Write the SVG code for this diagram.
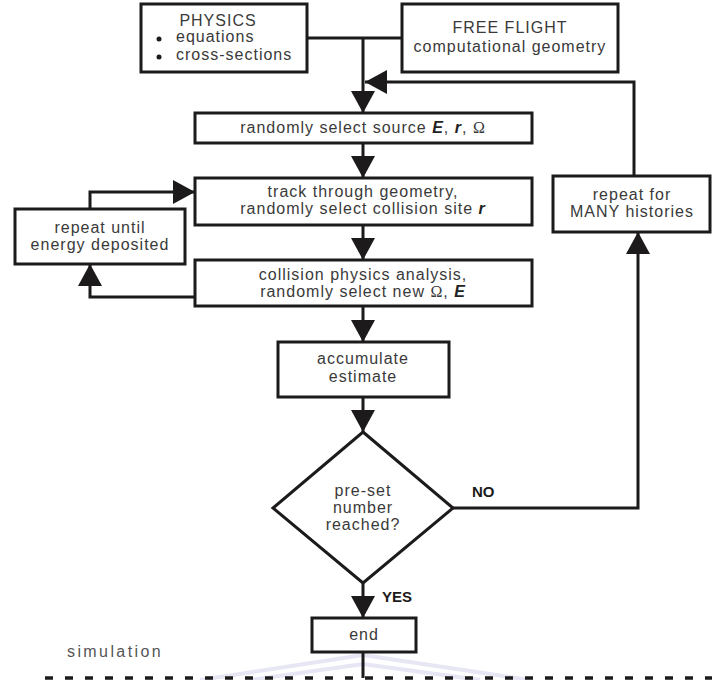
<svg xmlns="http://www.w3.org/2000/svg" width="712" height="680" viewBox="0 0 712 680">
<defs>
<style>
.box{fill:#fff;stroke:#1c1a1a;stroke-width:3}
.ln{fill:none;stroke:#1c1a1a;stroke-width:3}
.t{font-family:"Liberation Sans",Arial,sans-serif;font-size:16px;letter-spacing:1px;fill:#3a3a3a;text-anchor:middle}
.tl{font-family:"Liberation Sans",Arial,sans-serif;font-size:16px;letter-spacing:1px;fill:#3a3a3a}
.lab{font-family:"Liberation Sans",Arial,sans-serif;font-size:15px;font-weight:bold;fill:#1c1a1a}
.bi{font-weight:bold;font-style:italic;fill:#222}
.om{font-family:"Liberation Serif","Times New Roman",serif}
</style>
<marker id="ah" markerUnits="userSpaceOnUse" markerWidth="22" markerHeight="24" refX="22" refY="12" orient="auto" viewBox="0 0 22 24">
<path d="M0,0 L22,12 L0,24 Z" fill="#1c1a1a"/>
</marker>
</defs>
<rect width="712" height="680" fill="#fff"/>

<g id="watermark" fill="none" stroke="#dcdcf0" stroke-width="4" opacity="0.7">
<polyline points="200,680 363,655 530,680"/>
<polyline points="250,680 363,664 480,680"/>
</g>

<g id="connectors">
<line class="ln" x1="307" y1="38" x2="402" y2="38"/>
<line class="ln" x1="363" y1="38" x2="363" y2="113" marker-end="url(#ah)"/>
<polyline class="ln" points="634,176 634,82 365,82" marker-end="url(#ah)"/>
<line class="ln" x1="363" y1="143" x2="363" y2="178" marker-end="url(#ah)"/>
<line class="ln" x1="363" y1="225" x2="363" y2="260" marker-end="url(#ah)"/>
<polyline class="ln" points="195,297 90,297 90,264" marker-end="url(#ah)"/>
<polyline class="ln" points="90,209 90,192 195,192" marker-end="url(#ah)"/>
<line class="ln" x1="363" y1="306" x2="363" y2="342" marker-end="url(#ah)"/>
<line class="ln" x1="363" y1="397" x2="363" y2="432" marker-end="url(#ah)"/>
<polyline class="ln" points="453,508 638,508 638,232" marker-end="url(#ah)"/>
<line class="ln" x1="363" y1="583" x2="363" y2="618" marker-end="url(#ah)"/>
<line class="ln" x1="363" y1="652" x2="363" y2="678"/>
<line x1="45" y1="678" x2="712" y2="678" stroke="#1c1a1a" stroke-width="3.5" stroke-dasharray="8 12"/>
<text class="lab" x="472" y="497">NO</text>
<text class="lab" x="382" y="602">YES</text>
</g>

<g id="physics">
<rect class="box" x="141" y="4" width="166" height="68"/>
<text class="t" x="218" y="26">PHYSICS</text>
<circle cx="159" cy="39" r="2.5" fill="#1c1a1a"/>
<circle cx="159" cy="57" r="2.5" fill="#1c1a1a"/>
<text class="tl" x="176" y="42">equations</text>
<text class="tl" x="176" y="60">cross-sections</text>
</g>

<g id="freeflight">
<rect class="box" x="402" y="4" width="216" height="68"/>
<text class="t" x="510" y="33">FREE FLIGHT</text>
<text class="t" x="510" y="52">computational geometry</text>
</g>

<g id="source">
<rect class="box" x="195" y="113" width="337" height="30"/>
<text class="t" x="363" y="133">randomly select source <tspan class="bi">E</tspan>, <tspan class="bi">r</tspan>, <tspan class="om">Ω</tspan></text>
</g>

<g id="track">
<rect class="box" x="195" y="178" width="337" height="47"/>
<text class="t" x="363" y="197">track through geometry,</text>
<text class="t" x="363" y="214">randomly select collision site <tspan class="bi">r</tspan></text>
</g>

<g id="repeatuntil">
<rect class="box" x="15" y="209" width="170" height="55"/>
<text class="t" x="100" y="233">repeat until</text>
<text class="t" x="100" y="250">energy deposited</text>
</g>

<g id="collision">
<rect class="box" x="195" y="260" width="337" height="46"/>
<text class="t" x="363" y="280">collision physics analysis,</text>
<text class="t" x="363" y="297">randomly select new <tspan class="om">Ω</tspan>, <tspan class="bi">E</tspan></text>
</g>

<g id="accumulate">
<rect class="box" x="278" y="342" width="171" height="55"/>
<text class="t" x="363" y="364">accumulate</text>
<text class="t" x="363" y="382">estimate</text>
</g>

<g id="decision">
<polygon class="box" points="363,432 453,508 363,583 273,508"/>
<text class="t" x="363" y="496">pre-set</text>
<text class="t" x="363" y="513">number</text>
<text class="t" x="363" y="530">reached?</text>
</g>

<g id="repeatfor">
<rect class="box" x="553" y="176" width="157" height="56"/>
<text class="t" x="632" y="200">repeat for</text>
<text class="t" x="632" y="217">MANY histories</text>
</g>

<g id="end">
<rect class="box" x="312" y="618" width="104" height="34"/>
<text class="t" x="364" y="640">end</text>
</g>

<g id="simulation">
<text class="tl" x="67" y="657" style="fill:#555;letter-spacing:2.4px">simulation</text>
</g>
</svg>
